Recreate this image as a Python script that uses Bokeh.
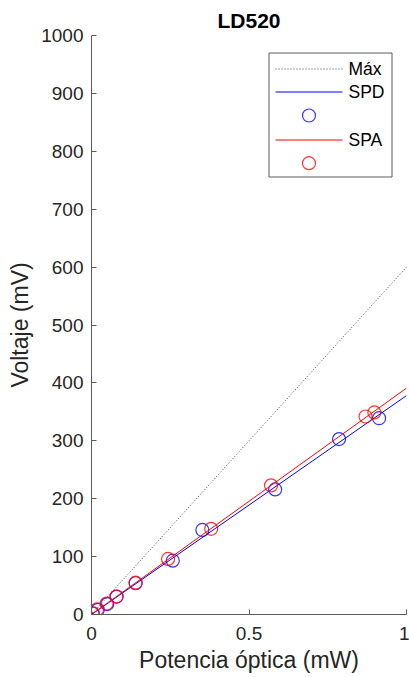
from bokeh.plotting import figure
from bokeh.models import Range1d, FixedTicker
from bokeh.core.properties import value
from bokeh.embed import file_html
from bokeh.resources import INLINE

# Measured points: optical power (mW) vs. voltage (mV)
spd_power = [0.004, 0.020, 0.050, 0.080, 0.140, 0.258, 0.352, 0.583, 0.786, 0.913]
spd_volt = [2, 8, 18, 31, 54, 93, 146, 216, 303, 339]
spa_power = [0.003, 0.018, 0.048, 0.079, 0.140, 0.243, 0.380, 0.570, 0.870, 0.898]
spa_volt = [2, 9, 19, 31, 55, 96, 148, 223, 342, 349]

# Linear fits and theoretical maximum, evaluated at the range ends
line_power = [0, 1]
max_volt = [0, 600]
spd_fit = [0, 378]
spa_fit = [0, 391]

x_ticks = [0, 0.5, 1]
x_tick_labels = ["0", "0.5", "1"]
y_ticks = list(range(0, 1001, 100))
legend_labels = ["Máx", "SPD", "SPA"]

FONT = "Liberation Sans"
AX = "#262626"
SPINE = "#5a5a5a"
BLUE = "#0000ff"
RED = "#ff0000"
MAXC = "#404040"

W, H = 409, 677
LEFT, RIGHT, TOP, BOTTOM = 91, 3, 35, 63
X0, X1, Y0, Y1 = 0, 1, 0, 1000

p = figure(width=W, height=H, output_backend="svg", toolbar_location=None,
           x_range=Range1d(X0, X1), y_range=Range1d(Y0, Y1),
           min_border_left=LEFT, min_border_right=RIGHT, min_border_top=TOP,
           min_border_bottom=BOTTOM, title="LD520")

p.title.text_font = FONT
p.title.text_font_size = "21px"
p.title.text_font_style = "bold"
p.title.text_color = "#000000"
p.title.align = "center"
p.title.standoff = 7

p.outline_line_color = None
p.xgrid.visible = False
p.ygrid.visible = False
p.background_fill_color = "white"
p.border_fill_color = "white"

p.line(line_power, max_volt, line_color=MAXC, line_dash="1 2", line_width=1)
p.line(line_power, spd_fit, line_color=BLUE, line_width=1)
p.scatter(spd_power, spd_volt, marker="circle", size=13, fill_color=None,
          line_color=BLUE, line_width=1.2, line_alpha=0.8)
p.line(line_power, spa_fit, line_color=RED, line_width=1)
p.scatter(spa_power, spa_volt, marker="circle", size=13, fill_color=None,
          line_color=RED, line_width=1.2, line_alpha=0.8)

for ax in (p.xaxis[0], p.yaxis[0]):
    ax.axis_line_color = SPINE
    ax.major_tick_line_color = SPINE
    ax.major_tick_in = 5
    ax.major_tick_out = 0
    ax.minor_tick_line_color = None
    ax.major_label_text_font = FONT
    ax.major_label_text_font_size = "19px"
    ax.major_label_text_color = AX
    ax.axis_label_text_font = FONT
    ax.axis_label_text_font_size = "23px"
    ax.axis_label_text_font_style = "normal"
    ax.axis_label_text_color = AX

p.xaxis.ticker = FixedTicker(ticks=x_ticks)
p.xaxis.major_label_overrides = dict(zip(x_ticks, x_tick_labels))
p.xaxis.major_label_standoff = 12
p.xaxis.axis_label = "Potencia óptica (mW)"
p.xaxis.axis_label_standoff = 4

p.yaxis.ticker = FixedTicker(ticks=y_ticks)
p.yaxis.major_label_standoff = 8
p.yaxis.axis_label = "Voltaje (mV)"
p.yaxis.axis_label_standoff = 5

# --- legend in the upper-right corner, laid out in canvas pixels ---
frame_w = W - LEFT - RIGHT
frame_h = H - TOP - BOTTOM


def dx(px):
    return X0 + (px - LEFT) / frame_w * (X1 - X0)


def dy(py):
    return Y0 + (TOP + frame_h - py) / frame_h * (Y1 - Y0)


box_l, box_r, box_t, box_b = 268.5, 391.5, 52.5, 176.5
sample_l, sample_r, text_x = 275, 342, 348
row_y = [68.5, 91.5, 115, 139.5, 162.7]
sample_mid = (sample_l + sample_r) / 2

p.quad(left=[dx(box_l)], right=[dx(box_r)], top=[dy(box_t)], bottom=[dy(box_b)],
       fill_color="white", line_color=SPINE, line_width=1)

# "Máx" sample: dotted
p.segment(x0=[dx(sample_l)], x1=[dx(sample_r)], y0=[dy(row_y[0])], y1=[dy(row_y[0])],
          line_color=MAXC, line_width=1, line_dash="1 2")
# SPD / SPA fit samples
p.segment(x0=[dx(sample_l)] * 2, x1=[dx(sample_r)] * 2,
          y0=[dy(row_y[1]), dy(row_y[3])], y1=[dy(row_y[1]), dy(row_y[3])],
          line_color=[BLUE, RED], line_width=1)
# SPD / SPA marker samples
p.scatter(x=[dx(sample_mid)] * 2, y=[dy(row_y[2]), dy(row_y[4])], marker="circle", size=13,
          fill_color=None, line_color=[BLUE, RED], line_width=1.2, line_alpha=0.8)

p.text(x=[dx(text_x)] * 3, y=[dy(row_y[0]), dy(row_y[1]), dy(row_y[3])],
       text=legend_labels, text_font=value(FONT), text_font_size="17.5px",
       text_color="#000000", text_align="left", text_baseline="middle")

open("out.html", "w").write(file_html(p, INLINE))
